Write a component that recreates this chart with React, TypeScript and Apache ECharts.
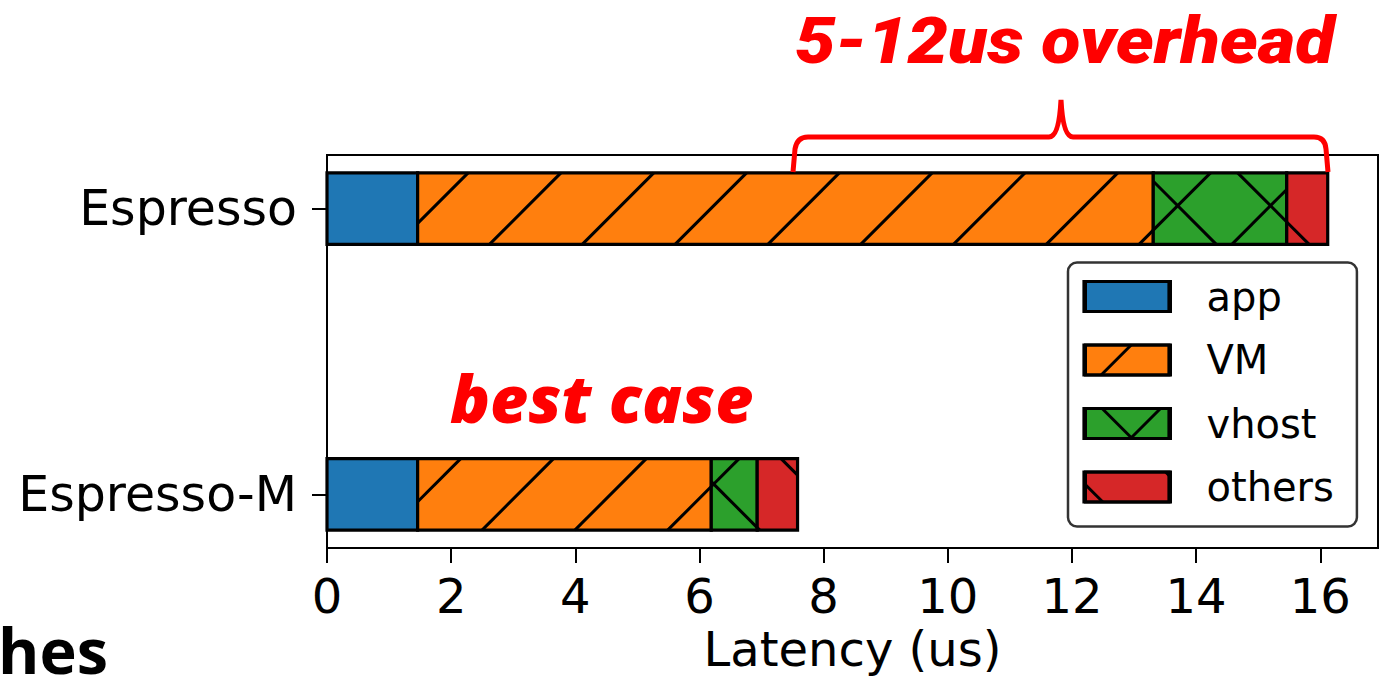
import React, { useEffect, useRef } from 'react';
import * as echarts from 'echarts';

// ---------------- data ----------------
const categories = ['Espresso-M', 'Espresso'];
const seriesNames = ['app', 'VM', 'vhost', 'others'];
const appLatency = [1.46, 1.46];
const vmLatency = [4.73, 11.85];
const vhostLatency = [0.74, 2.15];
const othersLatency = [0.65, 0.66];
const xTicks = [0, 2, 4, 6, 8, 10, 12, 14, 16];
const yTicks = [0, 1];

// ---------------- style ----------------
const X_MAX = 16.93;
const Y_MIN = -0.1875;
const Y_MAX = 1.1875;
const BAR_HEIGHT = 0.25;
const COLORS = ['#1f77b4', '#ff7f0e', '#2ca02c', '#d62728'];
const HATCHES = ['', '/', 'x', '\\'];
const HATCH_P = 92.8;
const PHASE_F = 641;
const PHASE_B = 972;
const FONT = 'DejaVu Sans';
const ANN_FONT = '"Open Sans"';
const TITLE_FONT = 'Roboto';

const LEG_LEFT = 1068;
const LEG_TOP = 262.5;
const LEG_FONT = 40;
const LEG_W = 85;
const LEG_H = 30;
const LEG_ITEM = Math.max(LEG_H, LEG_FONT);
const LEG_STEP = 63.5;
const LEG_GAP = LEG_STEP - LEG_ITEM;
const LEG_PAD = [14, 23, 19.5, 16];

function hatchLines(x0: number, y0: number, x1: number, y1: number, hatch: string) {
  const out: number[][] = [];
  if (hatch.includes('/') || hatch.includes('x')) {
    const cMin = x0 + y0;
    const cMax = x1 + y1;
    const k = Math.ceil((cMin - PHASE_F) / HATCH_P);
    for (let c = PHASE_F + k * HATCH_P; c <= cMax; c += HATCH_P) {
      const xa = Math.max(x0, c - y1);
      const xb = Math.min(x1, c - y0);
      if (xb > xa) out.push([xa, c - xa, xb, c - xb]);
    }
  }
  if (hatch.includes('\\') || hatch.includes('x')) {
    const cMin = x0 - y1;
    const cMax = x1 - y0;
    const k = Math.ceil((cMin - PHASE_B) / HATCH_P);
    for (let c = PHASE_B + k * HATCH_P; c <= cMax; c += HATCH_P) {
      const xa = Math.max(x0, y0 + c);
      const xb = Math.min(x1, y1 + c);
      if (xb > xa) out.push([xa, xa - c, xb, xb - c]);
    }
  }
  return out;
}

function hatchedRect(x0: number, y0: number, x1: number, y1: number, color: string, hatch: string, withFill: boolean) {
  const children: any[] = [];
  if (withFill) {
    children.push({
      type: 'rect',
      shape: { x: x0, y: y0, width: x1 - x0, height: y1 - y0 },
      style: { fill: color, stroke: 'none' },
    });
  }
  hatchLines(x0, y0, x1, y1, hatch).forEach((l) => {
    children.push({
      type: 'line',
      shape: { x1: l[0], y1: l[1], x2: l[2], y2: l[3] },
      style: { stroke: '#000', lineWidth: 3 },
    });
  });
  children.push({
    type: 'rect',
    shape: { x: x0, y: y0, width: x1 - x0, height: y1 - y0 },
    style: { fill: 'none', stroke: '#000', lineWidth: 3.2 },
  });
  return children;
}

const bracePath =
  'M 793 172 L 795 149 Q 797 137 808 137 L 1049 137 Q 1059 137 1061 100 Q 1063 137 1073 137 L 1314 137 Q 1325 137 1326 149 L 1328 172';

export default function App() {
  const ref = useRef<HTMLDivElement>(null);
  useEffect(() => {
    if (!ref.current) return;
    echarts.graphic.registerShape('brace', echarts.graphic.extendPath(bracePath, {}) as any);
    const chart = echarts.init(ref.current, undefined, { renderer: 'svg' });

    const segs = [appLatency, vmLatency, vhostLatency, othersLatency];
    const starts = categories.map(() => 0);
    const series = segs.map((vals, si) => {
      const data = vals.map((v, ci) => {
        const s = starts[ci];
        starts[ci] = s + v;
        return [ci, s, s + v];
      });
      return {
        type: 'custom',
        name: seriesNames[si],
        itemStyle: { color: COLORS[si], borderColor: '#000', borderWidth: 3 },
        encode: { x: [1, 2], y: 0 },
        data,
        renderItem: (params: any, api: any) => {
          const y = api.value(0);
          const a = api.coord([api.value(1), y]);
          const b = api.coord([api.value(2), y]);
          const h = api.size([0, BAR_HEIGHT])[1];
          return {
            type: 'group',
            children: hatchedRect(a[0], a[1] - h / 2, b[0], a[1] + h / 2, COLORS[si], HATCHES[si], true),
          };
        },
      };
    });

    const legendOverlay: any[] = [];
    seriesNames.forEach((_, i) => {
      const x0 = LEG_LEFT + LEG_PAD[3];
      const y0 = LEG_TOP + LEG_PAD[0] + (LEG_ITEM - LEG_H) / 2 + i * LEG_STEP;
      legendOverlay.push(...hatchedRect(x0, y0, x0 + LEG_W, y0 + LEG_H, COLORS[i], HATCHES[i], false));
    });

    chart.setOption({
      animation: false,
      backgroundColor: '#fff',
      grid: {
        left: 327,
        right: 8,
        top: 155,
        bottom: 132,
        show: true,
        borderColor: '#000',
        borderWidth: 2,
        containLabel: false,
        outerBoundsMode: 'none',
      },
      xAxis: {
        type: 'value',
        min: 0,
        max: X_MAX,
        splitLine: { show: false },
        axisLine: { show: true, onZero: false, lineStyle: { color: '#000', width: 2 } },
        axisTick: { show: true, customValues: xTicks, length: 15, lineStyle: { color: '#000', width: 2 } },
        axisLabel: { customValues: xTicks, fontSize: 48, fontFamily: FONT, color: '#000', margin: 24 },
        name: 'Latency (us)',
        nameLocation: 'middle',
        nameGap: 76,
        nameTextStyle: { fontSize: 48, fontFamily: FONT, color: '#000' },
      },
      yAxis: {
        type: 'value',
        min: Y_MIN,
        max: Y_MAX,
        splitLine: { show: false },
        axisLine: { show: true, onZero: false, lineStyle: { color: '#000', width: 2 } },
        axisTick: { show: true, customValues: yTicks, length: 15, lineStyle: { color: '#000', width: 2 } },
        axisLabel: {
          customValues: yTicks,
          fontSize: 49,
          fontFamily: FONT,
          color: '#000',
          margin: 30,
          formatter: (v: number) => categories[Math.round(v)],
        },
      },
      legend: {
        data: seriesNames,
        orient: 'vertical',
        left: LEG_LEFT,
        top: LEG_TOP,
        padding: LEG_PAD,
        itemWidth: LEG_W,
        itemHeight: LEG_H,
        itemGap: LEG_GAP,
        icon: 'rect',
        itemStyle: { borderColor: '#000', borderWidth: 3 },
        borderColor: '#333',
        borderWidth: 2.5,
        borderRadius: 9,
        backgroundColor: '#fff',
        textStyle: {
          fontSize: LEG_FONT,
          fontFamily: FONT,
          color: '#000',
          padding: [0, 0, 0, 31],
        },
      },
      graphic: [
        ...legendOverlay.map((e) => ({ ...e, z: 100 })),
        {
          type: 'brace',
          x: 0,
          y: 0,
          z: 100,
          style: { stroke: '#ff0000', fill: 'none', lineWidth: 5 },
        },
        {
          type: 'text',
          x: 795,
          y: 41,
          scaleX: 1.11,
          z: 100,
          style: {
            text: '5-12us overhead',
            fill: '#ff0000',
            font: `italic 900 65px ${TITLE_FONT}`,
            textAlign: 'left',
            textVerticalAlign: 'middle',
          },
        },
        {
          type: 'text',
          x: 450,
          y: 397,
          z: 100,
          style: {
            text: 'best case',
            fill: '#ff0000',
            font: `italic 800 66px ${ANN_FONT}`,
            textAlign: 'left',
            textVerticalAlign: 'middle',
          },
        },
        {
          type: 'text',
          x: -2,
          y: 649,
          z: 100,
          style: {
            text: 'hes',
            fill: '#000',
            font: `bold 63px "Open Sans"`,
            textAlign: 'left',
            textVerticalAlign: 'middle',
          },
        },
      ],
      series,
    });
    return () => chart.dispose();
  }, []);
  return (
    <div
      ref={ref}
      style={{ position: 'absolute', left: 0, top: 0, width: 1386, height: 680, background: '#fff' }}
    />
  );
}
